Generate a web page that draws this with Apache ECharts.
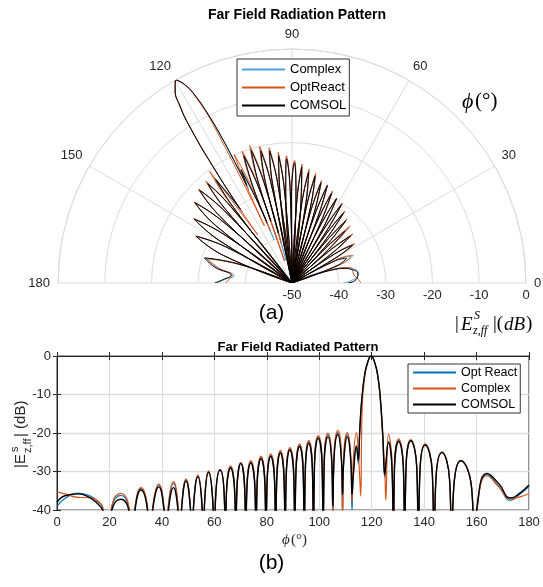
<!DOCTYPE html>
<html>
<head>
<meta charset="utf-8">
<script src="https://cdn.jsdelivr.net/npm/echarts@6/dist/echarts.min.js"></script>
<style>
html,body{margin:0;padding:0;background:#fff;}
#c{width:543px;height:587px;}
</style>
</head>
<body>
<div id="c"></div>
<script>
// shared angle samples (deg)
const phi = [
0, 3, 8, 12.5, 15.5, 17.5,
19.2, 21.0, 24.3, 27.2,
28.8, 29.9, 32.0, 34.3,
35.5, 36.5, 38.8, 40.8,
41.6, 42.4, 44.4, 46.2,
46.9, 47.6, 49.2, 50.8,
51.5, 52.2, 53.7, 55.2,
55.8, 56.4, 57.8, 59.3,
60.0, 60.5, 62.2, 63.8,
64.2, 64.6, 66.2, 67.8,
68.2, 68.6, 70.1, 71.6,
72.0, 72.4, 73.9, 75.5,
75.9, 76.3, 77.8, 79.3,
79.7, 80.1, 81.5, 83.0,
83.4, 83.8, 85.2, 86.6,
87.0, 87.4, 88.8, 90.3,
90.7, 91.1, 92.5, 93.9,
94.3, 94.7, 96.0, 97.4,
97.8, 98.2, 99.6, 101.1,
101.5, 101.9, 103.3, 104.8,
105.2, 105.6, 107.1, 108.5,
108.9, 109.3, 110.7, 112.1,
112.5, 113.0, 114.2, 114.9,
115.4, 115.8, 116.4, 117.3, 118.4, 119.8, 121.2, 122.3, 123.2, 124.2,
125.0, 125.4, 126.4, 127.8,
128.3, 128.7, 130.3, 132.1,
132.6, 133.1, 134.9, 137.2,
137.8, 138.4, 140.4, 143.1,
143.8, 144.5, 146.8, 149.7,
150.5, 151.3, 154.0, 158.1,
159.2, 160.4, 164.0, 168.5, 173.0, 176.5, 180
];
// COMSOL (black), dB
const comsol = [
-38.0, -36.3, -35.8, -36.8, -38.4, -40.3,
-50, -39.8, -37.2, -39.6,
-50, -39.3, -34.8, -39.0,
-50, -40.0, -34.0, -40.0,
-50, -40.7, -34.2, -40.7,
-50, -39.0, -32.5, -39.0,
-50, -37.9, -31.4, -37.9,
-50, -36.7, -30.2, -36.7,
-50, -36.6, -29.6, -36.6,
-50, -36.1, -29.1, -36.1,
-50, -34.9, -27.9, -34.9,
-50, -34.8, -27.8, -34.8,
-50, -33.7, -26.7, -33.7,
-50, -33.1, -26.1, -33.1,
-50, -32.2, -25.2, -32.2,
-50, -31.4, -24.4, -31.4,
-50, -30.5, -23.5, -30.5,
-50, -29.7, -22.7, -29.7,
-50, -28.4, -21.4, -28.4,
-50, -28.0, -21.0, -28.0,
-39, -27.4, -20.4, -27.4,
-36, -28.0, -21.0, -28.0,
-36, -31.0, -23.5, -27.0,
-20, -15, -10, -5, -1.8, 0, -1.8, -5, -10, -20,
-30.8, -28, -22.5, -30.0,
-50, -29.2, -22.2, -29.2,
-50, -29.0, -22.0, -29.0,
-50, -30.1, -23.1, -30.1,
-50, -32.1, -25.1, -32.1,
-50, -34.2, -27.2, -34.2,
-50, -38.0, -30.5, -33.2, -36.9, -35.6, -33.5
];
// blue curve, dB
const blueVals = [
-39.0, -37.0, -35.6, -36.3, -37.8, -39.5,
-50, -39.0, -36.2, -38.8,
-50, -38.9, -34.4, -38.5,
-50, -39.5, -33.5, -39.5,
-50, -39.5, -33.0, -39.5,
-50, -38.7, -32.2, -38.7,
-50, -37.6, -31.1, -37.6,
-50, -36.5, -30.0, -36.5,
-50, -36.6, -29.6, -36.6,
-50, -35.8, -28.8, -35.8,
-50, -34.8, -27.8, -34.8,
-50, -34.5, -27.5, -34.5,
-50, -33.4, -26.4, -33.4,
-50, -32.7, -25.7, -32.7,
-50, -31.8, -24.8, -31.8,
-50, -31.1, -24.1, -31.1,
-50, -30.1, -23.1, -30.1,
-50, -29.3, -22.3, -29.3,
-50, -28.0, -21.0, -28.0,
-50, -27.4, -20.4, -27.4,
-45, -26.9, -19.9, -26.9,
-40, -27.5, -20.5, -27.5,
-40, -30.8, -23.3, -28.0,
-21, -15.5, -10.3, -5.1, -1.8, 0, -1.8, -5.1, -10.2, -20.3,
-31.5, -28.5, -22.2, -29.7,
-50, -28.9, -21.9, -28.9,
-50, -28.9, -21.9, -28.9,
-50, -30.0, -23.0, -30.0,
-50, -32.0, -25.0, -32.0,
-50, -34.2, -27.2, -34.2,
-50, -38.4, -30.9, -33.9, -37.5, -35.9, -33.9
];
// orange curve, dB
const orangeVals = [
-35.3, -35.8, -36.7, -36.8, -37.6, -39.6,
-50, -38.6, -35.7, -38.4,
-50, -38.6, -34.2, -38.2,
-50, -39.3, -33.3, -39.3,
-50, -39.1, -32.6, -39.1,
-50, -38.5, -32.0, -38.5,
-50, -37.4, -30.9, -37.4,
-50, -36.3, -29.8, -36.3,
-50, -36.5, -29.5, -36.5,
-50, -35.5, -28.5, -35.5,
-50, -34.7, -27.7, -34.7,
-50, -34.2, -27.2, -34.2,
-50, -33.0, -26.0, -33.0,
-50, -32.4, -25.4, -32.4,
-50, -31.5, -24.5, -31.5,
-50, -30.8, -23.8, -30.8,
-50, -29.8, -22.8, -29.8,
-50, -28.9, -21.9, -28.9,
-50, -27.7, -20.7, -27.7,
-50, -27.0, -20.0, -27.0,
-41, -26.3, -19.3, -26.3,
-45, -26.9, -19.9, -26.9,
-38, -26.9, -19.9, -25.0,
-31, -36.4, -13, -5.6, -1.9, 0, -1.8, -5.2, -10.5, -21,
-29.5, -37.4, -20.3, -27.8,
-50, -28.5, -21.5, -28.5,
-50, -28.7, -21.7, -28.7,
-50, -29.8, -22.8, -29.8,
-50, -31.9, -24.9, -31.9,
-50, -34.1, -27.1, -34.1,
-50, -38.6, -31.1, -34.0, -37.1, -36.6, -35.7
];
const angleTicks = [0, 30, 60, 90, 120, 150, 180];
const radiusTicks = [-50, -40, -30, -20, -10, 0];
const xTicks = [0, 20, 40, 60, 80, 100, 120, 140, 160, 180];
const yTicks = [-40, -30, -20, -10, 0];

const BLUE = '#0072BD', ORANGE = '#D95319', BLACK = '#000000', LBLUE = '#4DA3E0';
const TXT = '#262626', GRID = '#dcdcdc';
const SANS = 'Liberation Sans, Arial, sans-serif';
const SERIF = 'Liberation Serif, DejaVu Serif, serif';

const rMin = radiusTicks[0], rMax = radiusTicks[radiusTicks.length - 1];
const toPolar = vals => phi.map((p, i) => [Math.max(vals[i], rMin), p]);
const toCart = vals => phi.map((p, i) => [p, vals[i]]);

const names = {
  p_blue: 'Complex', p_orange: 'OptReact', p_black: 'COMSOL',
  c_blue: 'Opt React', c_orange: 'Complex', c_black: 'COMSOL'
};

function lineSeries(id, color, data, width, extra) {
  return Object.assign({
    name: id, type: 'line', data: data, showSymbol: false, symbol: 'none',
    smooth: 0.5, lineStyle: { color: color, width: width }, itemStyle: { color: color },
    animation: false, silent: true
  }, extra);
}

const chart = echarts.init(document.getElementById('c'), null, { renderer: 'canvas' });
const option = {
  animation: false,
  backgroundColor: '#fff',
  textStyle: { fontFamily: SANS },
  title: [
    { text: 'Far Field Radiation Pattern', left: 292, top: 3, textAlign: 'center',
      textStyle: { fontSize: 14, fontWeight: 'bold', color: '#000', fontFamily: SANS } },
    { text: 'Far Field Radiated Pattern', left: 293, top: 336, textAlign: 'center',
      textStyle: { fontSize: 13, fontWeight: 'bold', color: '#000', fontFamily: SANS } }
  ],
  polar: { center: [292, 283], radius: [0, 234] },
  angleAxis: {
    type: 'value', min: 0, max: 180, interval: 30, startAngle: 0, endAngle: 180, clockwise: false,
    axisLine: { show: true, lineStyle: { color: GRID, width: 1 } },
    axisTick: { show: false },
    axisLabel: { show: true, fontSize: 13, color: TXT, margin: 8, fontFamily: SANS },
    splitLine: { show: true, lineStyle: { color: GRID, width: 1 } }
  },
  radiusAxis: {
    type: 'value', min: rMin, max: rMax, interval: 10,
    axisLine: { show: false }, axisTick: { show: false },
    axisLabel: { show: true, showMinLabel: true, showMaxLabel: true,
      fontSize: 13, color: TXT, margin: -19, fontFamily: SANS },
    splitLine: { show: true, lineStyle: { color: GRID, width: 1 } }
  },
  grid: { left: 57, right: 14, top: 356, bottom: 77, show: true, borderColor: TXT, borderWidth: 1, backgroundColor: 'transparent' },
  xAxis: [
    { type: 'value', min: 0, max: 180, interval: 20, position: 'bottom',
      axisLine: { show: true, lineStyle: { color: TXT } },
      axisTick: { show: true, inside: true, length: 4, lineStyle: { color: TXT } },
      axisLabel: { fontSize: 13, color: TXT, margin: 6, fontFamily: SANS },
      splitLine: { show: true, lineStyle: { color: GRID } } },
    { type: 'value', min: 0, max: 180, interval: 20, position: 'top',
      axisLine: { show: true, lineStyle: { color: TXT } },
      axisTick: { show: true, inside: true, length: 4, lineStyle: { color: TXT } },
      axisLabel: { show: false }, splitLine: { show: false } }
  ],
  yAxis: [
    { type: 'value', min: -40, max: 0, interval: 10, position: 'left',
      axisLine: { show: true, lineStyle: { color: TXT } },
      axisTick: { show: true, inside: true, length: 4, lineStyle: { color: TXT } },
      axisLabel: { fontSize: 13, color: TXT, margin: 6, fontFamily: SANS },
      splitLine: { show: true, lineStyle: { color: GRID, width: 1.3 } } },
    { type: 'value', min: -40, max: 0, interval: 10, position: 'right',
      axisLine: { show: true, lineStyle: { color: TXT } },
      axisTick: { show: true, inside: true, length: 4, lineStyle: { color: TXT } },
      axisLabel: { show: false }, splitLine: { show: false } }
  ],
  legend: [
    { data: ['p_blue', 'p_orange', 'p_black'], orient: 'vertical', left: 237, top: 59, z: 20,
      formatter: n => names[n], itemWidth: 43, itemHeight: 12, itemGap: 5, padding: [4, 3, 4, 4],
      itemStyle: { opacity: 0 },
      borderColor: '#333', borderWidth: 1, backgroundColor: '#fff', borderRadius: 0,
      textStyle: { fontSize: 13, color: '#000', fontFamily: SANS } },
    { data: ['c_blue', 'c_orange', 'c_black'], orient: 'vertical', left: 408, top: 364, z: 20,
      formatter: n => names[n], itemWidth: 43, itemHeight: 12, itemGap: 3, padding: [2, 3, 2, 4],
      itemStyle: { opacity: 0 },
      borderColor: '#333', borderWidth: 1, backgroundColor: '#fff', borderRadius: 0,
      textStyle: { fontSize: 12.5, color: '#000', fontFamily: SANS } }
  ],
  series: [
    lineSeries('p_blue', LBLUE, toPolar(blueVals), 1.0, { coordinateSystem: 'polar' }),
    lineSeries('p_orange', ORANGE, toPolar(orangeVals), 1.0, { coordinateSystem: 'polar' }),
    lineSeries('p_black', BLACK, toPolar(comsol), 1.0, { coordinateSystem: 'polar' }),
    lineSeries('c_blue', BLUE, toCart(blueVals), 1.2, { xAxisIndex: 0, yAxisIndex: 0, clip: true }),
    lineSeries('c_orange', ORANGE, toCart(orangeVals), 1.2, { xAxisIndex: 0, yAxisIndex: 0, clip: true }),
    lineSeries('c_black', BLACK, toCart(comsol), 1.4, { xAxisIndex: 0, yAxisIndex: 0, clip: true })
  ],
  graphic: [
    { type: 'text', left: 'center', top: 303, style: { text: '(a)', fontSize: 21, fill: '#000', font: '21px Lato, "Open Sans", sans-serif' }, z: 10 },
    { type: 'text', left: 'center', top: 553, style: { text: '(b)', fontSize: 21, fill: '#000', font: '21px Lato, "Open Sans", sans-serif' }, z: 10 },
    // phi(deg) in polar
    { type: 'text', x: 462, y: 91, style: { text: 'ϕ', font: 'italic 22px ' + SERIF, fill: '#000' } },
    { type: 'text', x: 475, y: 91, style: { text: '(°)', font: '21px ' + SERIF, fill: '#000' } },
    // radial label |E^S_{z,ff}|(dB)
    { type: 'text', x: 455, y: 315, style: { text: '|', font: '19px ' + SERIF, fill: '#000' } },
    { type: 'text', x: 461, y: 315, style: { text: 'E', font: 'italic 19px ' + SERIF, fill: '#000' } },
    { type: 'text', x: 474, y: 310, style: { text: 'S', font: 'italic 12px ' + SERIF, fill: '#000' } },
    { type: 'text', x: 473, y: 325, style: { text: 'z,ff', font: 'italic 12px ' + SERIF, fill: '#000' } },
    { type: 'text', x: 493, y: 315, style: { text: '|(', font: '19px ' + SERIF, fill: '#000' } },
    { type: 'text', x: 504, y: 315, style: { text: 'dB', font: 'italic 19px ' + SERIF, fill: '#000' } },
    { type: 'text', x: 526, y: 315, style: { text: ')', font: '19px ' + SERIF, fill: '#000' } },
    // x axis name phi(deg)
    { type: 'text', x: 282, y: 533, style: { text: 'ϕ', font: 'italic 15px ' + SERIF, fill: TXT } },
    { type: 'text', x: 291, y: 533, style: { text: '(°)', font: '15px ' + SERIF, fill: TXT } },
    // y axis name, rotated
    { type: 'group', x: 13, y: 468, rotation: Math.PI / 2, children: [
      { type: 'text', x: 0, y: 0, style: { text: '|E', font: '15px ' + SANS, fill: TXT } },
      { type: 'text', x: 16, y: -4, style: { text: 's', font: '11px ' + SANS, fill: TXT } },
      { type: 'text', x: 15, y: 9, style: { text: 'z,ff', font: '11px ' + SANS, fill: TXT } },
      { type: 'text', x: 31, y: 0, style: { text: '| (dB)', font: '15px ' + SANS, fill: TXT } }
    ] }
  ]
};
chart.setOption(option);
</script>
</body>
</html>
